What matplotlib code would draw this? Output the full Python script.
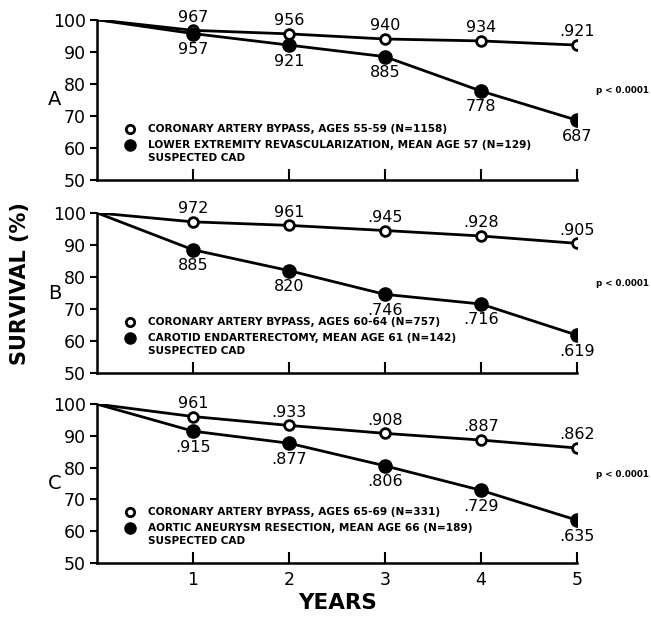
import matplotlib
matplotlib.use("Agg")
import matplotlib.pyplot as plt

# years of follow-up
years = [0, 1, 2, 3, 4, 5]

# panel A
a_cab = [100, 96.7, 95.6, 94.0, 93.4, 92.1]
a_cab_lbl = ["967", "956", "940", "934", ".921"]
a_cad = [100, 95.7, 92.1, 88.5, 77.8, 68.7]
a_cad_lbl = ["957", "921", "885", "778", "687"]
a_legend = ["CORONARY ARTERY BYPASS, AGES 55-59 (N=1158)",
            "LOWER EXTREMITY REVASCULARIZATION, MEAN AGE 57 (N=129)"]

# panel B
b_cab = [100, 97.2, 96.1, 94.5, 92.8, 90.5]
b_cab_lbl = ["972", "961", ".945", ".928", ".905"]
b_cad = [100, 88.5, 82.0, 74.6, 71.6, 61.9]
b_cad_lbl = ["885", "820", ".746", ".716", ".619"]
b_legend = ["CORONARY ARTERY BYPASS, AGES 60-64 (N=757)",
            "CAROTID ENDARTERECTOMY, MEAN AGE 61 (N=142)"]

# panel C
c_cab = [100, 96.1, 93.3, 90.8, 88.7, 86.2]
c_cab_lbl = ["961", ".933", ".908", ".887", ".862"]
c_cad = [100, 91.5, 87.7, 80.6, 72.9, 63.5]
c_cad_lbl = [".915", ".877", ".806", ".729", ".635"]
c_legend = ["CORONARY ARTERY BYPASS, AGES 65-69 (N=331)",
            "AORTIC ANEURYSM RESECTION, MEAN AGE 66 (N=189)"]

panels = [
    ("A", a_cab, a_cab_lbl, a_cad, a_cad_lbl, a_legend),
    ("B", b_cab, b_cab_lbl, b_cad, b_cad_lbl, b_legend),
    ("C", c_cab, c_cab_lbl, c_cad, c_cad_lbl, c_legend),
]

plt.rcParams["font.family"] = ["DejaVu Sans"]

fig = plt.figure(figsize=(6.51, 6.17), dpi=100)

# panel boxes in figure fraction (left, bottom, width, height)
boxes = [(0.149, 0.708, 0.737, 0.260),
         (0.149, 0.395, 0.737, 0.260),
         (0.149, 0.0875, 0.737, 0.2575)]

for i, (letter, cab, cab_lbl, cad, cad_lbl, legend) in enumerate(panels):
    ax = fig.add_axes(boxes[i])
    ax.plot(years, cab, color="black", lw=2, zorder=2)
    ax.plot(years, cad, color="black", lw=2, zorder=2)
    ax.plot(years[1:], cab[1:], "o", ms=7, mfc="white", mec="black", mew=2, zorder=3)
    ax.plot(years[1:], cad[1:], "o", ms=9.5, color="black", zorder=3)

    for x, y, s in zip(years[1:], cab[1:], cab_lbl):
        ax.annotate(s, (x, y), xytext=(0, 9.5), textcoords="offset points",
                    ha="center", va="center", fontsize=11.5)
    for x, y, s in zip(years[1:], cad[1:], cad_lbl):
        ax.annotate(s, (x, y), xytext=(0, -11.5), textcoords="offset points",
                    ha="center", va="center", fontsize=11.5)

    # legend drawn by hand like the original
    ax.plot([0.34], [66], "o", ms=6, mfc="white", mec="black", mew=2, clip_on=False)
    ax.plot([0.34], [61], "o", ms=8, color="black", clip_on=False)
    ax.text(0.53, 66, legend[0], fontsize=7.6, fontweight="bold", va="center")
    ax.text(0.53, 61, legend[1], fontsize=7.6, fontweight="bold", va="center")
    ax.text(0.53, 56.8, "SUSPECTED CAD", fontsize=7.6, fontweight="bold", va="center")

    ax.text(5.2, 78, "p < 0.0001", fontsize=6.3, fontweight="bold", va="center",
            clip_on=False)
    ax.text(-0.44, 75, letter, fontsize=14, ha="center", va="center")

    ax.set_xlim(0, 5)
    ax.set_ylim(50, 100)
    ax.set_yticks([50, 60, 70, 80, 90, 100])
    ax.set_xticks([1, 2, 3, 4, 5])
    ax.spines["top"].set_visible(False)
    ax.spines["right"].set_visible(False)
    ax.spines["left"].set_linewidth(1.8)
    ax.spines["bottom"].set_linewidth(1.8)
    ax.tick_params(axis="y", direction="out", length=5, width=1.5, labelsize=12.5, pad=3)
    ax.tick_params(axis="x", direction="in", length=8, width=1.5, labelsize=12.5, pad=6)
    if i < 2:
        ax.tick_params(axis="x", labelbottom=False)

fig.text(0.03, 0.541, "SURVIVAL (%)", rotation=90, fontsize=15, fontweight="bold",
         ha="center", va="center")
fig.text(0.518, 0.022, "YEARS", fontsize=15.5, fontweight="bold", ha="center", va="center")

fig.savefig("out.png", dpi=100)
